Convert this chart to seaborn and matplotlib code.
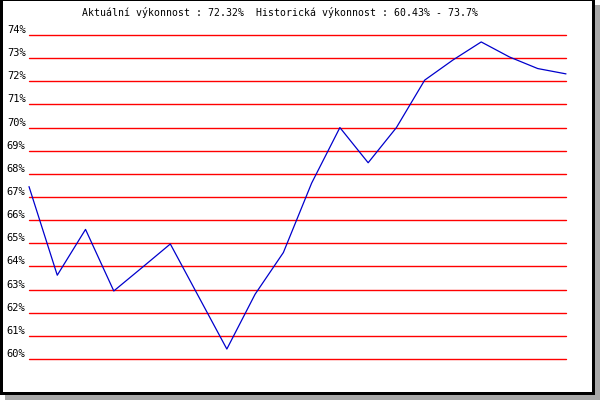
import matplotlib
matplotlib.use("Agg")
import matplotlib.pyplot as plt
from matplotlib.patches import Rectangle
import seaborn as sns

sns.set_theme(style="white")
plt.rcParams["font.family"] = ["DejaVu Sans Mono", "DejaVu Sans"]

TITLE = "Aktuální výkonnost : 72.32%  Historická výkonnost : 60.43% - 73.7%"
Y_TICKS = list(range(60, 75))
Y_LABELS = [f"{v}%" for v in Y_TICKS]
# one reading per period
PERF = [67.45, 63.62, 65.6, 62.94, 63.95, 64.97, 62.7, 60.43, 62.8, 64.6,
        67.6, 70.0, 68.48, 70.0, 72.05, 72.92, 73.7, 73.05, 72.55, 72.32]
PERIODS = list(range(len(PERF)))

W, H = 600, 400
fig = plt.figure(figsize=(6, 4), dpi=100)
fig.patch.set_facecolor("white")

# frame with drop shadow
fig.patches.append(Rectangle((5 / W, 0), 595 / W, 5 / H, transform=fig.transFigure,
                             facecolor="#a8a8a8", edgecolor="none", zorder=0))
fig.patches.append(Rectangle((595 / W, 0), 5 / W, 395 / H, transform=fig.transFigure,
                             facecolor="#a8a8a8", edgecolor="none", zorder=0))
fig.patches.append(Rectangle((0, 5 / H), 595 / W, 395 / H, transform=fig.transFigure,
                             facecolor="black", edgecolor="none", zorder=0))
fig.patches.append(Rectangle((3 / W, 8 / H), 589 / W, 391 / H, transform=fig.transFigure,
                             facecolor="white", edgecolor="none", zorder=0))

ax = fig.add_axes([29 / W, 41 / H, 537 / W, 324 / H])
ax.set_zorder(5)
ax.set_facecolor("none")
for y in Y_TICKS:
    ax.axhline(y, color="#ff0000", lw=1.0, zorder=1, clip_on=False)
sns.lineplot(x=PERIODS, y=PERF, ax=ax, color="#0000cc", lw=0.9, zorder=3)
for ln in ax.lines:
    ln.set_clip_on(False)

ax.set_xlim(0, len(PERF) - 1)
ax.set_ylim(60, 74)
ax.set_xticks([])
ax.set_yticks(Y_TICKS, Y_LABELS)
ax.tick_params(axis="y", length=0, pad=2.5, labelsize=7.5, colors="black")
for lbl in ax.get_yticklabels():
    lbl.set_verticalalignment("bottom")
for s in ax.spines.values():
    s.set_visible(False)
ax.set_xlabel("")
ax.set_ylabel("")

fig.text(280 / W, 1 - 13 / H, TITLE, ha="center", va="center", fontsize=7.15,
         color="black", zorder=6)

fig.savefig("out.png", dpi=100)
